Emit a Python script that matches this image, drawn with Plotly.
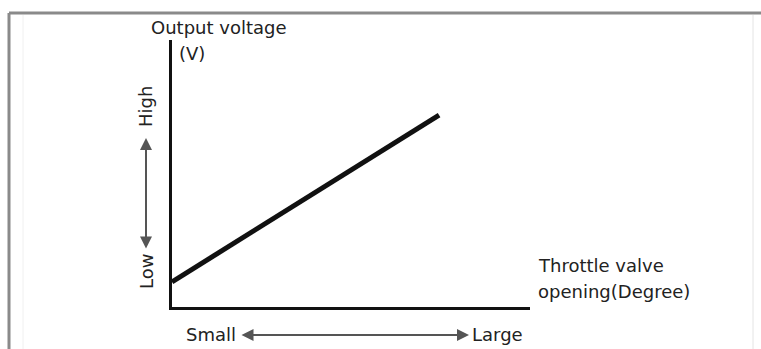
import plotly.graph_objects as go

# Data (schematic: throttle opening vs output voltage, arbitrary units)
throttle_opening = [0.0, 7.46]
output_voltage = [0.94, 7.19]

x_title_lines = ["Throttle valve", "opening(Degree)"]
y_title_lines = ["Output voltage", "(V)"]
x_scale_labels = ["Small", "Large"]
y_scale_labels = ["Low", "High"]

W, H = 761, 349
L, R, T, B = 172, 530, 40, 307  # plot area in pixels
FONT = dict(family="DejaVu Sans", size=18, color="#222222")


def px(x):
    return (x - L) / (R - L)


def py(y):
    return (B - y) / (B - T)


fig = go.Figure()
fig.add_trace(go.Scatter(x=throttle_opening, y=output_voltage, mode="lines",
                         line=dict(color="#111111", width=5), hoverinfo="skip",
                         showlegend=False))

shapes = [
    # outer frame
    dict(type="line", xref="paper", yref="paper", x0=px(9), x1=px(761), y0=py(13), y1=py(13),
         line=dict(color="#8a8a8a", width=3)),
    dict(type="line", xref="paper", yref="paper", x0=px(9), x1=px(9), y0=py(13), y1=py(349),
         line=dict(color="#8a8a8a", width=3)),
    dict(type="line", xref="paper", yref="paper", x0=px(753), x1=px(753), y0=py(15), y1=py(349),
         line=dict(color="#e4e4e4", width=1)),
    dict(type="line", xref="paper", yref="paper", x0=px(23), x1=px(23), y0=py(15), y1=py(349),
         line=dict(color="#f0f0f0", width=1)),
]

annotations = [
    dict(text=y_title_lines[0], x=px(219), y=py(28)),
    dict(text=y_title_lines[1], x=px(192), y=py(53)),
    dict(text=x_title_lines[0], x=px(536), y=py(265), xanchor="left"),
    dict(text=x_title_lines[1], x=px(536), y=py(291), xanchor="left"),
    dict(text=x_scale_labels[0], x=px(211), y=py(334)),
    dict(text=x_scale_labels[1], x=px(497), y=py(334)),
    dict(text=y_scale_labels[1], x=px(146), y=py(107), textangle=-90),
    dict(text=y_scale_labels[0], x=px(146), y=py(272), textangle=-90),
]
for a in annotations:
    a.update(xref="paper", yref="paper", showarrow=False, font=FONT)
    a.setdefault("xanchor", "center")
    a["yanchor"] = "middle"

# double-headed arrows
annotations += [
    dict(xref="paper", yref="paper", axref="pixel", ayref="pixel",
         x=px(469), y=py(335), ax=240 - 469, ay=0, text="", showarrow=True,
         arrowhead=2, arrowsize=1.2, arrowwidth=2, arrowcolor="#555555",
         arrowside="end+start", standoff=0, startstandoff=0),
    dict(xref="paper", yref="paper", axref="pixel", ayref="pixel",
         x=px(146), y=py(138), ax=0, ay=250 - 138, text="", showarrow=True,
         arrowhead=2, arrowsize=1.2, arrowwidth=2, arrowcolor="#555555",
         arrowside="end+start", standoff=0, startstandoff=0),
]

fig.update_layout(
    width=W, height=H,
    margin=dict(l=L, r=W - R, t=T, b=H - B, pad=0),
    paper_bgcolor="white", plot_bgcolor="white",
    xaxis=dict(range=[0, 10], showgrid=False, zeroline=False, showticklabels=False,
               ticks="", showline=True, linecolor="#111111", linewidth=3, fixedrange=True),
    yaxis=dict(range=[0, 10], showgrid=False, zeroline=False, showticklabels=False,
               ticks="", showline=True, linecolor="#111111", linewidth=3, fixedrange=True),
    shapes=shapes, annotations=annotations, showlegend=False,
)

fig.write_html("out.html", config=dict(displayModeBar=False),
               post_script="document.body.style.margin='0';document.body.style.overflow='hidden';")
